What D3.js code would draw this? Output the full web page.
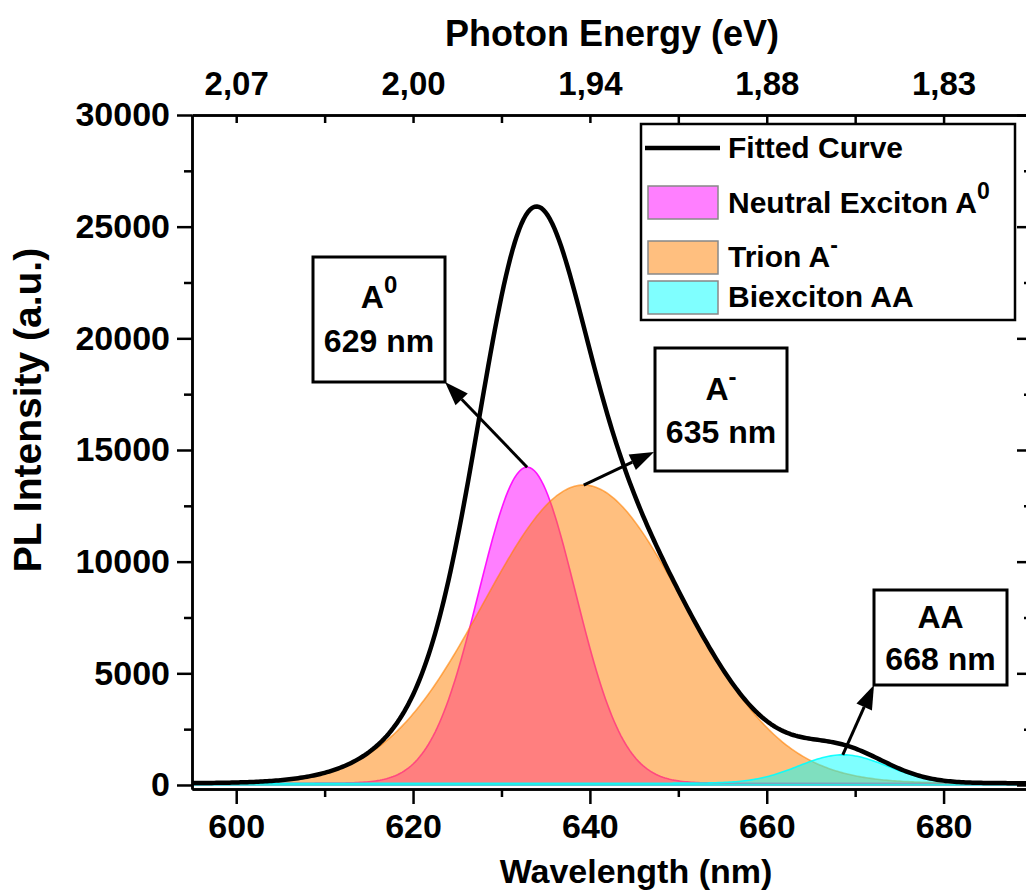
<!DOCTYPE html>
<html>
<head>
<meta charset="utf-8">
<script src="https://cdn.jsdelivr.net/npm/d3@7"></script>
<style>
  html, body { margin: 0; padding: 0; background: #fff; }
  svg text { font-family: Arial, "Liberation Sans", sans-serif; font-weight: bold; fill: #000; }
</style>
</head>
<body>
<script>
// Wavelength axis (bottom) and photon-energy labels (top) share the same tick positions
const wavelengthTicks = [600, 620, 640, 660, 680];
const wavelengthMinorTicks = [610, 630, 650, 670, 690];
const energyLabels = ["2,07", "2,00", "1,94", "1,88", "1,83"];
const intensityTicks = [0, 5000, 10000, 15000, 20000, 25000, 30000];
const intensityMinorTicks = [2500, 7500, 12500, 17500, 22500, 27500];

// Multi-peak Gaussian fit of the PL spectrum
const peakKeys = ["A0", "Atrion", "AA"];
const peakCenters = [632.9, 639.3, 668.6];   // nm
const peakHeights = [14150, 13350, 1270];    // a.u. above the offset
const peakSigmas = [5.45, 11.3, 5.0];        // nm
const fitOffset = 80;                        // a.u.
const peakColors = ["#ff00ff", "#ff8000", "#00ffff"];
const peakCallouts = [
  { main: "A", sup: "0", text: "629 nm" },
  { main: "A", sup: "-", text: "635 nm" },
  { main: "AA", sup: "", text: "668 nm" }
];

const W = 1026, H = 892;
const svg = d3.select("body").append("svg").attr("width", W).attr("height", H);

const x = d3.scaleLinear().domain([595, 690]).range([192, 1032]);
const y = d3.scaleLinear().domain([-180, 30000]).range([789, 115]);
const [x0, x1] = x.range();
const [yb, yt] = y.range();

const grid = d3.range(595, 690.001, 0.25);
const gauss = (i, w) => peakHeights[i] * Math.exp(-((w - peakCenters[i]) ** 2) / (2 * peakSigmas[i] ** 2));

svg.append("clipPath").attr("id", "plot-clip")
  .append("rect").attr("x", x0).attr("y", yt).attr("width", x1 - x0).attr("height", yb - yt);

const plot = svg.append("g").attr("clip-path", "url(#plot-clip)");

// Component peaks, filled from zero intensity
peakKeys.forEach((k, i) => {
  const area = d3.area()
    .x(w => x(w))
    .y0(y(0))
    .y1(w => y(fitOffset + gauss(i, w)));
  plot.append("path")
    .datum(grid)
    .attr("d", area)
    .attr("fill", peakColors[i])
    .attr("fill-opacity", 0.5)
    .attr("stroke", peakColors[i])
    .attr("stroke-opacity", i === 1 ? 0.6 : 0.9)
    .attr("stroke-width", 1.6);
});

// Cumulative fitted curve
const fitLine = d3.line()
  .x(w => x(w))
  .y(w => y(fitOffset + peakKeys.reduce((s, k, i) => s + gauss(i, w), 0)));
plot.append("path")
  .datum(grid)
  .attr("d", fitLine)
  .attr("fill", "none")
  .attr("stroke", "#000")
  .attr("stroke-width", 4.5)
  .attr("stroke-linejoin", "round");

// Axes
function styleAxis(size) {
  return g => {
    g.selectAll("path.domain").attr("stroke", "#000").attr("stroke-width", 2.5);
    g.selectAll(".tick line").attr("stroke", "#000").attr("stroke-width", 2.5);
    g.selectAll("text").attr("font-size", size).attr("fill", "#000");
  };
}

svg.append("g").attr("transform", `translate(0,${yb})`)
  .call(d3.axisBottom(x).tickValues(wavelengthTicks).tickSize(15).tickSizeOuter(0).tickPadding(10).tickFormat(d3.format("d")))
  .call(styleAxis(34));
svg.append("g").attr("transform", `translate(0,${yb})`)
  .call(d3.axisBottom(x).tickValues(wavelengthMinorTicks).tickSize(8).tickSizeOuter(0).tickFormat(""))
  .call(styleAxis(34));

svg.append("g").attr("transform", `translate(0,${yt})`)
  .call(d3.axisTop(x).tickValues(wavelengthTicks).tickSize(-8).tickSizeOuter(0).tickPadding(20)
    .tickFormat((d, i) => energyLabels[i]))
  .call(styleAxis(33));
svg.append("g").attr("transform", `translate(0,${yt})`)
  .call(d3.axisTop(x).tickValues(wavelengthMinorTicks).tickSize(-8).tickSizeOuter(0).tickFormat(""))
  .call(styleAxis(33));

svg.append("g").attr("transform", `translate(${x0},0)`)
  .call(d3.axisLeft(y).tickValues(intensityTicks).tickSize(15).tickSizeOuter(0).tickPadding(7).tickFormat(d3.format("d")))
  .call(styleAxis(34));
svg.append("g").attr("transform", `translate(${x0},0)`)
  .call(d3.axisLeft(y).tickValues(intensityMinorTicks).tickSize(8).tickSizeOuter(0).tickFormat(""))
  .call(styleAxis(34));

svg.append("g").attr("transform", `translate(${x1},0)`)
  .call(d3.axisRight(y).tickValues(intensityTicks).tickSize(-15).tickSizeOuter(0).tickFormat(""))
  .call(styleAxis(34));
svg.append("g").attr("transform", `translate(${x1},0)`)
  .call(d3.axisRight(y).tickValues(intensityMinorTicks).tickSize(-8).tickSizeOuter(0).tickFormat(""))
  .call(styleAxis(34));

// Axis titles
svg.append("text").attr("x", 612).attr("y", 46).attr("text-anchor", "middle")
  .attr("font-size", 36).text("Photon Energy (eV)");
svg.append("text").attr("x", 636).attr("y", 883).attr("text-anchor", "middle")
  .attr("font-size", 34).text("Wavelength (nm)");
svg.append("text").attr("transform", "translate(41,410) rotate(-90)").attr("text-anchor", "middle")
  .attr("font-size", 39).text("PL Intensity (a.u.)");

// Callout arrows from each peak maximum to its label box
const calloutBoxes = [
  { x: 313, y: 257, w: 132, h: 125, anchor: [445, 382], l1: 308, l2: 352 },
  { x: 655, y: 348, w: 132, h: 123, anchor: [654, 452], l1: 400, l2: 443 },
  { x: 874, y: 590, w: 133, h: 95, anchor: [874, 685], l1: 628, l2: 670 }
];

function arrow(g, from, to) {
  const dx = to[0] - from[0], dy = to[1] - from[1];
  const len = Math.hypot(dx, dy), ux = dx / len, uy = dy / len;
  const hl = 24, hw = 8.5;
  const bx = to[0] - ux * hl, by = to[1] - uy * hl;
  g.append("line").attr("x1", from[0]).attr("y1", from[1]).attr("x2", bx).attr("y2", by)
    .attr("stroke", "#000").attr("stroke-width", 3);
  g.append("path")
    .attr("d", `M${to[0]},${to[1]}L${bx - uy * hw},${by + ux * hw}L${bx + uy * hw},${by - ux * hw}Z`)
    .attr("fill", "#000");
}

const callouts = svg.append("g");
peakKeys.forEach((k, i) => {
  const tail = [x(peakCenters[i]), y(fitOffset + peakHeights[i])];
  arrow(callouts, tail, calloutBoxes[i].anchor);
});
peakKeys.forEach((k, i) => {
  const b = calloutBoxes[i], c = peakCallouts[i];
  callouts.append("rect").attr("x", b.x).attr("y", b.y).attr("width", b.w).attr("height", b.h)
    .attr("fill", "#fff").attr("stroke", "#000").attr("stroke-width", 3);
  const t1 = callouts.append("text").attr("x", b.x + b.w / 2).attr("y", b.l1)
    .attr("text-anchor", "middle").attr("font-size", 32);
  t1.append("tspan").text(c.main);
  if (c.sup) t1.append("tspan").attr("dy", -15).attr("font-size", 24).text(c.sup);
  callouts.append("text").attr("x", b.x + b.w / 2).attr("y", b.l2)
    .attr("text-anchor", "middle").attr("font-size", 32).text(c.text);
});

// Legend
const legend = svg.append("g");
legend.append("rect").attr("x", 641).attr("y", 124).attr("width", 374).attr("height", 196)
  .attr("fill", "#fff").attr("stroke", "#000").attr("stroke-width", 2.5);
legend.append("line").attr("x1", 645).attr("x2", 720).attr("y1", 148).attr("y2", 148)
  .attr("stroke", "#000").attr("stroke-width", 4.5);
legend.append("text").attr("x", 728).attr("y", 158).attr("font-size", 30).text("Fitted Curve");

const legendRows = [
  { top: 186, base: 213, main: "Neutral Exciton A", sup: "0" },
  { top: 241, base: 267, main: "Trion A", sup: "-" },
  { top: 281, base: 307, main: "Biexciton AA", sup: "" }
];
legendRows.forEach((r, i) => {
  legend.append("rect").attr("x", 648).attr("y", r.top).attr("width", 70).attr("height", 33)
    .attr("fill", peakColors[i]).attr("fill-opacity", 0.5)
    .attr("stroke", "#888").attr("stroke-width", 1.5);
  const t = legend.append("text").attr("x", 728).attr("y", r.base).attr("font-size", 30);
  t.append("tspan").text(r.main);
  if (r.sup) t.append("tspan").attr("dy", -14).attr("font-size", 23).text(r.sup);
});
</script>
</body>
</html>
